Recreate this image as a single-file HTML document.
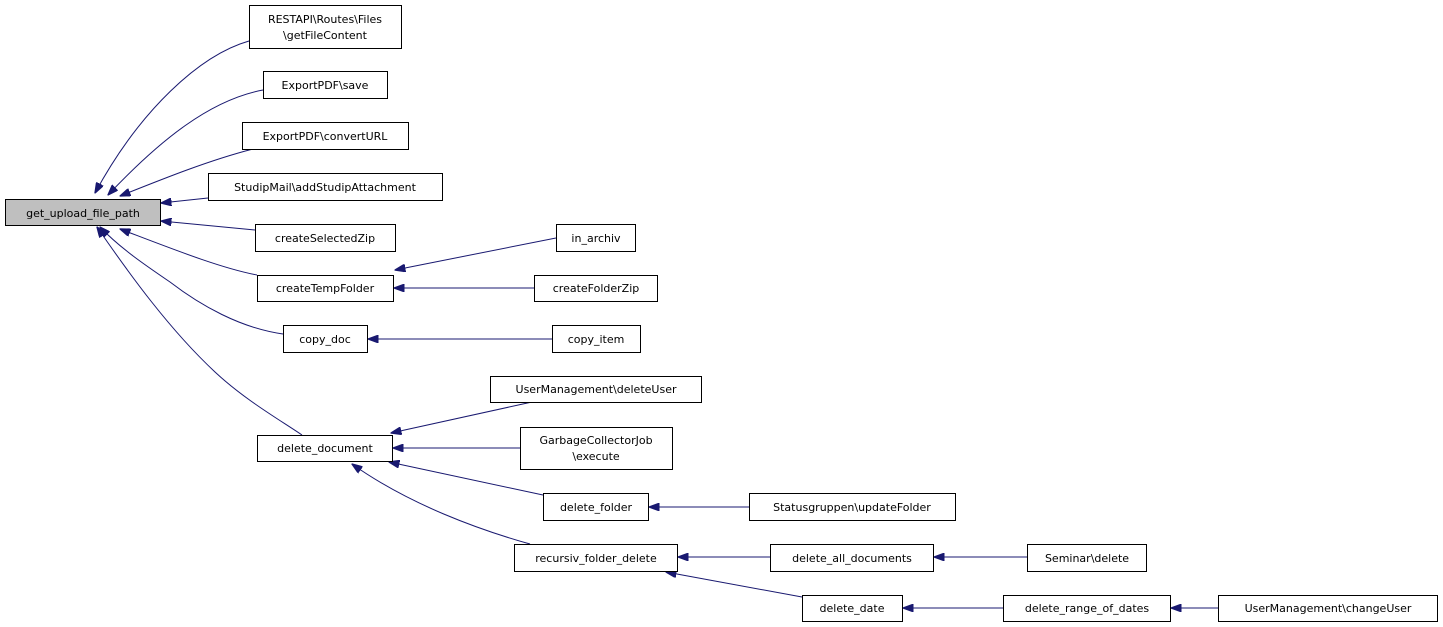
<!DOCTYPE html>
<html><head><meta charset="utf-8"><style>
body{margin:0;background:#fff;}
svg{display:block;}
text{font-family:"DejaVu Sans","Liberation Sans",sans-serif;font-size:11px;fill:#000;text-anchor:middle;}
rect{fill:#fff;stroke:#000;stroke-width:1;}
path{fill:none;stroke:#191970;stroke-width:1;}
</style></head><body>
<svg width="1443" height="627" viewBox="0 0 1443 627" xmlns="http://www.w3.org/2000/svg">
<defs><marker id="a" markerWidth="11" markerHeight="8" refX="10.5" refY="4" orient="auto" markerUnits="userSpaceOnUse"><path d="M0,0 L11,4 L0,8 Z" style="fill:#191970;stroke:#191970"/></marker></defs>
<g marker-end="url(#a)">
<path d="M249,41 C200,55 140,110 95,193"/>
<path d="M263,90 C210,100 160,140 108,195"/>
<path d="M253,149 C210,160 165,178 120,196"/>
<path d="M208,198 L161,203"/>
<path d="M255,230 L161,221"/>
<path d="M257,275 C220,268 170,248 120,229"/>
<path d="M283,334 C240,328 200,305 170,282 C145,265 120,248 100,227"/>
<path d="M302,435 C280,420 245,400 215,372 C170,330 130,275 97,227"/>
<path d="M556,238 L395,270"/>
<path d="M534,288 L394,288"/>
<path d="M552,339 L368,339"/>
<path d="M532,402 L391,433"/>
<path d="M520,448 L393,448"/>
<path d="M543,495 L389,462"/>
<path d="M530,544 C480,530 410,505 352,464"/>
<path d="M749,507 L649,507"/>
<path d="M770,557 L678,557"/>
<path d="M802,597 L666,572"/>
<path d="M1027,557 L934,557"/>
<path d="M1003,608 L903,608"/>
<path d="M1218,608 L1171,608"/>
</g>
<rect x="5.5" y="199.5" width="155" height="26" style="fill:#bfbfbf"/><text x="83" y="217">get_upload_file_path</text>
<rect x="249.5" y="5.5" width="152" height="43"/><text x="325" y="23">RESTAPI\Routes\Files</text><text x="325" y="39">\getFileContent</text>
<rect x="263.5" y="71.5" width="124" height="27"/><text x="325" y="89">ExportPDF\save</text>
<rect x="242.5" y="122.5" width="166" height="27"/><text x="325" y="140">ExportPDF\convertURL</text>
<rect x="208.5" y="173.5" width="234" height="27"/><text x="325" y="191">StudipMail\addStudipAttachment</text>
<rect x="255.5" y="224.5" width="140" height="27"/><text x="325" y="242">createSelectedZip</text>
<rect x="257.5" y="275.5" width="136" height="26"/><text x="325" y="292">createTempFolder</text>
<rect x="283.5" y="325.5" width="84" height="27"/><text x="325" y="343">copy_doc</text>
<rect x="257.5" y="435.5" width="135" height="26"/><text x="325" y="452">delete_document</text>
<rect x="556.5" y="224.5" width="79" height="27"/><text x="596" y="242">in_archiv</text>
<rect x="534.5" y="275.5" width="123" height="26"/><text x="596" y="292">createFolderZip</text>
<rect x="552.5" y="325.5" width="88" height="27"/><text x="596" y="343">copy_item</text>
<rect x="490.5" y="376.5" width="211" height="26"/><text x="596" y="393">UserManagement\deleteUser</text>
<rect x="520.5" y="427.5" width="152" height="42"/><text x="596" y="444">GarbageCollectorJob</text><text x="596" y="460">\execute</text>
<rect x="543.5" y="493.5" width="105" height="27"/><text x="596" y="511">delete_folder</text>
<rect x="514.5" y="544.5" width="163" height="27"/><text x="596" y="562">recursiv_folder_delete</text>
<rect x="749.5" y="493.5" width="206" height="27"/><text x="852" y="511">Statusgruppen\updateFolder</text>
<rect x="770.5" y="544.5" width="163" height="27"/><text x="852" y="562">delete_all_documents</text>
<rect x="802.5" y="595.5" width="100" height="26"/><text x="852" y="612">delete_date</text>
<rect x="1027.5" y="544.5" width="119" height="27"/><text x="1087" y="562">Seminar\delete</text>
<rect x="1003.5" y="595.5" width="167" height="26"/><text x="1087" y="612">delete_range_of_dates</text>
<rect x="1218.5" y="595.5" width="219" height="26"/><text x="1328" y="612">UserManagement\changeUser</text>
</svg>
</body></html>
